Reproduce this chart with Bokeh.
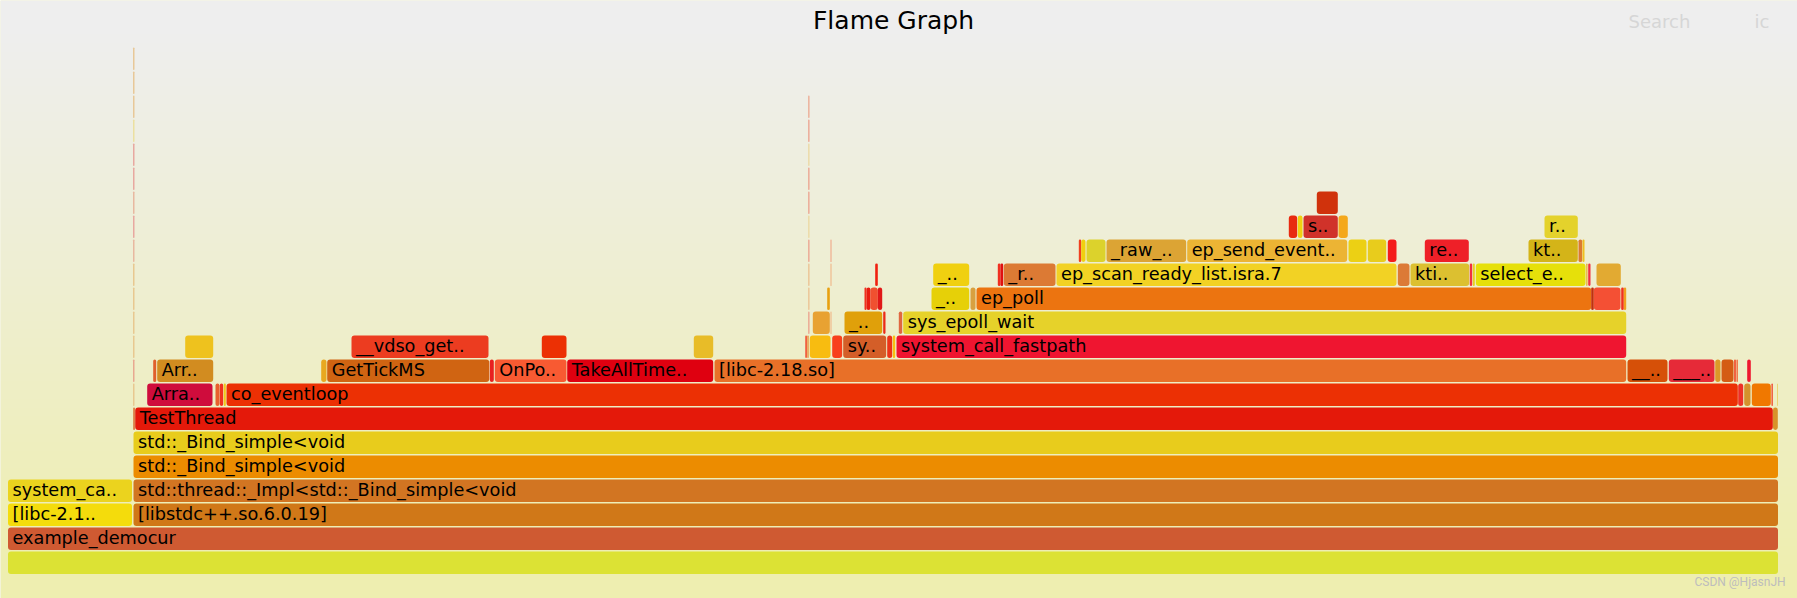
import numpy as np
from bokeh.plotting import figure
from bokeh.models import ColumnDataSource, Range1d, Label, Quad
from bokeh.core.properties import value
from bokeh.embed import file_html
from bokeh.resources import INLINE

# ---------------- data: one entry per frame (level 0 = root) ----------------
names = [
    "",                                            # 0
    "example_democur",                             # 1
    "[libc-2.1..", "[libstdc++.so.6.0.19]",        # 2
    "system_ca..", "std::thread::_Impl<std::_Bind_simple<void",  # 3
    "std::_Bind_simple<void",                      # 4
    "std::_Bind_simple<void",                      # 5
    "", "TestThread", "",                          # 6
    "", "Arra..", "", "", "", "co_eventloop", "", "", "", "", "",   # 7
    "", "", "Arr..", "", "GetTickMS", "", "OnPo..", "TakeAllTime..", "[libc-2.18.so]",
    "__..", "___..", "", "", "", "", "",           # 8
    "", "", "__vdso_get..", "", "", "", "", "", "", "sy..", "", "", "system_call_fastpath",  # 9
    "", "", "", "", "_..", "", "", "sys_epoll_wait",                 # 10
    "", "", "", "", "", "", "", "_..", "", "ep_poll", "", "", "", "",  # 11
    "", "", "", "", "_..", "", "", "_r..", "ep_scan_ready_list.isra.7", "", "kti..", "", "",
    "select_e..", "", "", "",                      # 12
    "", "", "", "", "", "", "_raw_..", "ep_send_event..", "", "", "", "re..", "kt..", "", "",  # 13
    "", "", "", "", "s..", "", "r..",              # 14
    "", "", "",                                    # 15
    "", "",                                        # 16
    "", "",                                        # 17
    "", "",                                        # 18
    "", "",                                        # 19
    "",                                            # 20
    "",                                            # 21
]
levels = [
    0,
    1,
    2, 2,
    3, 3,
    4,
    5,
    6, 6, 6,
    7, 7, 7, 7, 7, 7, 7, 7, 7, 7, 7,
    8, 8, 8, 8, 8, 8, 8, 8, 8, 8, 8, 8, 8, 8, 8, 8,
    9, 9, 9, 9, 9, 9, 9, 9, 9, 9, 9, 9, 9,
    10, 10, 10, 10, 10, 10, 10, 10,
    11, 11, 11, 11, 11, 11, 11, 11, 11, 11, 11, 11, 11, 11,
    12, 12, 12, 12, 12, 12, 12, 12, 12, 12, 12, 12, 12, 12, 12, 12, 12,
    13, 13, 13, 13, 13, 13, 13, 13, 13, 13, 13, 13, 13, 13, 13,
    14, 14, 14, 14, 14, 14, 14,
    15, 15, 15,
    16, 16,
    17, 17,
    18, 18,
    19, 19,
    20,
    21,
]
starts = [
    0,
    0,
    0, 125.5,
    0, 125.5,
    125.5,
    125.5,
    125.3, 127.2, 1765,
    125, 139.2, 207.5, 211.8, 215.8, 218.5, 1730.2, 1736.2, 1743.8, 1763.5, 1769,
    125, 145.2, 149.2, 313.2, 319.2, 481.8, 486.8, 559.2, 706.5, 1619.5, 1660.8, 1707.2, 1713.5, 1726.2, 1728.5, 1739.2,
    125, 177.2, 343.5, 533.8, 685.8, 797.2, 799.2, 801.8, 824.2, 835.2, 879.2, 884.8, 888.5,
    125, 800.2, 804.8, 822.5, 836.5, 875.2, 890.8, 895.2,
    125, 800.2, 819.2, 856.5, 858.5, 862.5, 869.8, 923.5, 962.5, 968.5, 1583.2, 1585.8, 1613.2, 1615.8,
    125, 800.2, 822.5, 867.2, 925.2, 989.8, 992.5, 995.8, 1048.5, 1389.8, 1402.5, 1461.8, 1464.8, 1467.8, 1578.2, 1580.2, 1588.5,
    125, 800.2, 822.5, 1070.8, 1073.2, 1078.5, 1098.5, 1179.2, 1340.5, 1359.8, 1379.8, 1416.8, 1520.5, 1570.5, 1574.5,
    125, 800.2, 1280.8, 1289.8, 1295.5, 1330.5, 1536.5,
    125, 800.2, 1308.8,
    125, 800.2,
    125, 800.2,
    125, 800.2,
    125, 800.2,
    125,
    125,
]
ends = [
    1770,
    1770,
    124, 1770,
    124, 1770,
    1770,
    1770,
    126.8, 1764.8, 1769.8,
    126.5, 204.5, 211.5, 215.2, 217.8, 1729.8, 1735.2, 1742.5, 1762.8, 1764.8, 1769.8,
    126.5, 148.2, 205.2, 318.5, 481.2, 485.8, 558.5, 705.2, 1618.2, 1659.5, 1706.5, 1712.5, 1725.5, 1727.8, 1729.8, 1742.8,
    126.5, 205.2, 480.5, 558.5, 705.2, 799, 800.8, 822.5, 834.2, 878.2, 884.2, 887.2, 1618.2,
    126.5, 801.5, 821.8, 823.5, 874.2, 877.5, 894.2, 1618.2,
    126.5, 801.5, 821.8, 858.5, 862.5, 869.8, 874.2, 961.2, 967.5, 1583.2, 1585.8, 1612.5, 1615.8, 1618.2,
    126.5, 801.5, 823.5, 869.8, 961.2, 992.5, 995.2, 1047.5, 1388.5, 1401.5, 1461.2, 1464.2, 1466.8, 1577.5, 1579.5, 1582.5, 1612.8,
    126.5, 801.5, 823.5, 1073.2, 1077.5, 1097.5, 1178.2, 1339.2, 1358.5, 1378.2, 1388.5, 1460.8, 1569.8, 1574.2, 1576.5,
    126.5, 801.5, 1289.2, 1294.5, 1329.8, 1339.8, 1569.8,
    126.5, 801.5, 1329.8,
    126.5, 801.5,
    126.5, 801.5,
    126.5, 801.5,
    126.5, 801.5,
    126.5,
    126.5,
]
colors = [
    "#dce234",
    "#cf5a32",
    "#f4dc0c", "#d07818",
    "#ebd31e", "#d27522",
    "#ec8c00",
    "#e8cc1c",
    "#d8642a", "#e4190a", "#d8922a",
    "#e8c890", "#cf0c3c", "#e8602c", "#f03020", "#f0c818", "#ec3004", "#ee3028", "#d4922c", "#f07800", "#f04028", "#e8d060",
    "#e8a890", "#e0602c", "#d28c20", "#e8a820", "#d06412", "#e82020", "#f85a32", "#df0010", "#e87028",
    "#d65008", "#e62a38", "#dc9828", "#d45c14", "#f04020", "#f06030", "#ee1830",
    "#e8c890", "#eec21e", "#ec3c20", "#ec3004", "#e8bc28", "#f06040", "#e8a050", "#f8bc10", "#f8401c", "#d45e28", "#ec3418", "#f8c010", "#ef1530",
    "#e8c890", "#eca08c", "#e8a232", "#f0b080", "#e0a00a", "#ec2c18", "#e06840", "#e6d22a",
    "#e8c890", "#ecc090", "#e8a010", "#f03020", "#e81c10", "#f05030", "#e01818", "#e6d008", "#d8a040", "#ec7410", "#c03010", "#f45034", "#f03020", "#f0a020",
    "#e8c890", "#ecc090", "#f0b080", "#f02010", "#f0d010", "#f03020", "#e01010", "#dc7a34", "#f2d224", "#dc7a36", "#dcc030", "#f03040", "#e8d020",
    "#e6e00a", "#e8b030", "#f03040", "#e2aa32",
    "#e8b8a0", "#eca08c", "#f0a080", "#f04020", "#f0d010", "#dcd22c", "#dca434", "#ecb434", "#ecd014", "#e8cc1c", "#f41c1c", "#ee2028", "#d4b418", "#dc7a30", "#f0c020",
    "#e8a8a0", "#ecd8a0", "#e82a10", "#f0d010", "#d0322a", "#f4a81c", "#e4d22c",
    "#e8b8a0", "#eca08c", "#d0320c",
    "#e8a8a0", "#eca08c",
    "#e8a8a0", "#ecd8a0",
    "#ece0a0", "#eca08c",
    "#e8c898", "#eca890",
    "#e8c898",
    "#e8c898",
]

title_text = "Flame Graph"
search_text = "Search"
ignorecase_text = "ic"
watermark_text = "CSDN @HjasnJH"

# ---------------- layout ----------------
W, H = 1797, 598
PITCH = 24.0          # px per level
BOX = 22.5            # px box height
X0 = 7.5              # screen x of sample 0
y0 = -(H - 562.25) / PITCH
half = BOX / PITCH / 2

p = figure(width=W, height=H, output_backend="svg", toolbar_location=None,
           x_range=Range1d(-X0, W - X0), y_range=Range1d(y0, y0 + H / PITCH),
           x_axis_type=None, y_axis_type=None, min_border=0,
           outline_line_color=None, background_fill_color="#eeeecc",
           border_fill_color="#eeeeee")
p.grid.visible = False

# background gradient (#eeeeee -> #eeeeb0)
img = np.empty((H, 1), dtype=np.uint32)
view = img.view(dtype=np.uint8).reshape((H, 1, 4))
for i in range(H):
    page_y = H - (i + 0.5)
    t = min(max((page_y / H - 0.05) / 0.9, 0.0), 1.0)
    view[i, 0, :] = [238, 238, int(round(238 - 62 * t)), 255]
p.image_rgba(image=[img], x=-X0, y=y0, dw=W, dh=H / PITCH)

lv = np.array(levels, dtype=float)
src = ColumnDataSource(dict(
    left=starts, right=ends, bottom=lv - half, top=lv + half,
    color=colors, name=names, lvl=lv,
))

qkw = dict(left="left", right="right", bottom="bottom", top="top",
           fill_color="color", line_color=None)
if "border_radius" in Quad.properties():
    qkw["border_radius"] = 3
p.quad(source=src, **qkw)

lab_idx = [i for i, n in enumerate(names) if n]
lsrc = ColumnDataSource(dict(
    x=[starts[i] for i in lab_idx],
    y=[levels[i] for i in lab_idx],
    text=[names[i] for i in lab_idx],
))
p.text(x="x", y="y", text="text", source=lsrc, x_offset=4.5, y_offset=-0.5,
       text_font=value("DejaVu Sans"), text_font_size="17.7px",
       text_baseline="middle", text_align="left", text_color="#000000")

p.add_layout(Label(x=893, y=H - 20, x_units="screen", y_units="screen",
                   text=title_text, text_align="center", text_baseline="middle",
                   text_font="DejaVu Sans", text_font_size="25px", text_color="#000000"))
p.add_layout(Label(x=1628, y=H - 20.5, x_units="screen", y_units="screen",
                   text=search_text, text_align="left", text_baseline="middle",
                   text_font="DejaVu Sans", text_font_size="18px", text_color="#d6d6d6"))
p.add_layout(Label(x=1754, y=H - 20.5, x_units="screen", y_units="screen",
                   text=ignorecase_text, text_align="left", text_baseline="middle",
                   text_font="DejaVu Sans", text_font_size="18px", text_color="#d6d6d6"))
p.add_layout(Label(x=1694, y=H - 581, x_units="screen", y_units="screen",
                   text=watermark_text, text_align="left", text_baseline="middle",
                   text_font="Roboto", text_font_size="12px", text_color="#bdbdbd"))

open("out.html", "w").write(file_html(p, INLINE))
